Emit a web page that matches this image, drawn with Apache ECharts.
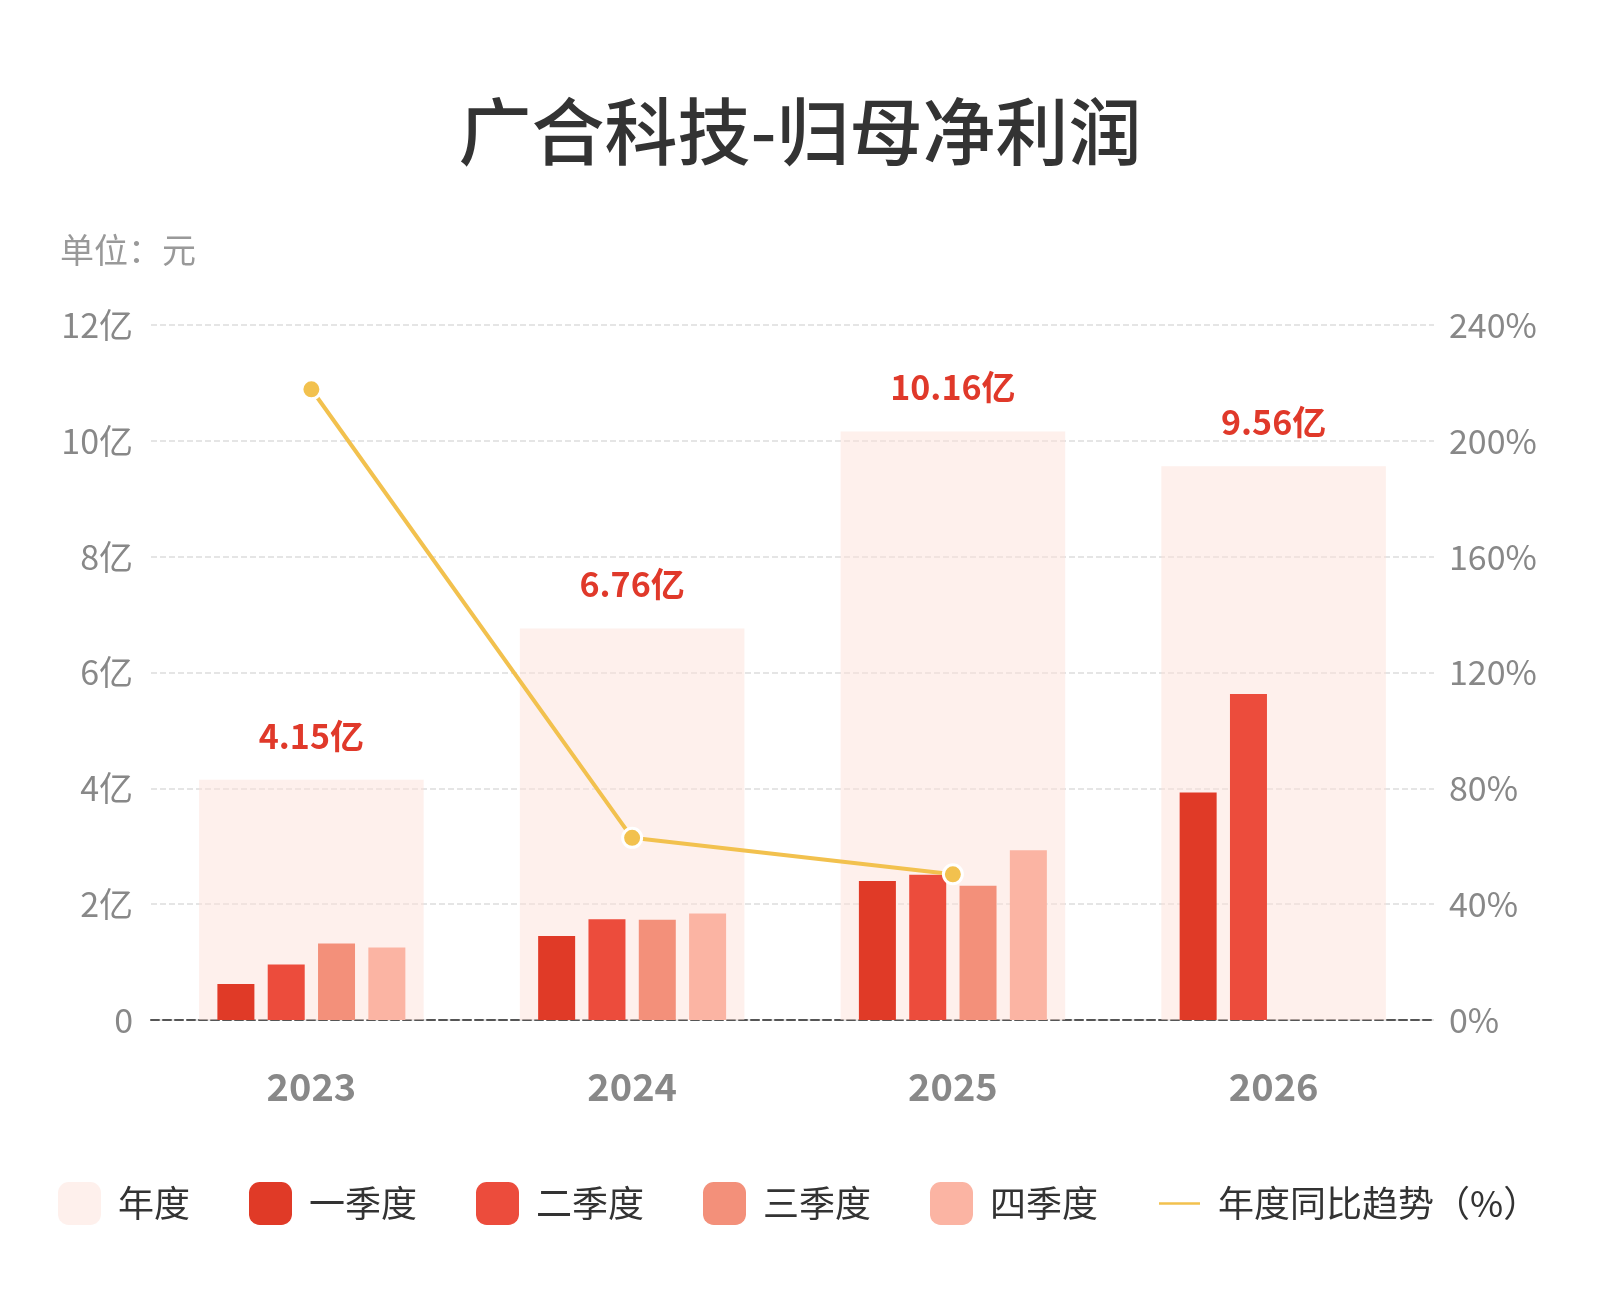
<!DOCTYPE html>
<html>
<head>
<meta charset="utf-8">
<style>
  html, body { margin: 0; padding: 0; background: #fff; }
  #main { width: 1600px; height: 1300px; }
</style>
<script src="https://cdn.jsdelivr.net/npm/echarts@6/dist/echarts.min.js"></script>
</head>
<body>
<div id="main"></div>
<script>
var myChart = echarts.init(document.getElementById('main'));

var years = ['2023', '2024', '2025', '2026'];
// 单位：亿元
var annual = [4.15, 6.76, 10.16, 9.56];
var q1 = [0.62, 1.45, 2.40, 3.93];
var q2 = [0.96, 1.74, 2.51, 5.63];
var q3 = [1.32, 1.73, 2.32, null];
var q4 = [1.25, 1.84, 2.93, null];
var yoy = [217.8, 62.9, 50.3, null];

var leftTicks = { min: 0, max: 12, interval: 2 };
var rightTicks = { min: 0, max: 240, interval: 40 };

var font = '"Noto Sans CJK SC", "Noto Sans", sans-serif';

var quarterBar = function(name, data, color) {
    return {
        name: name,
        type: 'bar',
        xAxisIndex: 1,
        yAxisIndex: 0,
        data: data,
        barWidth: 37,
        barGap: '36%',
        itemStyle: { color: color },
        z: 3
    };
};

var option = {
    backgroundColor: '#ffffff',
    textStyle: { fontFamily: font },
    title: [{
        text: '广合科技-归母净利润',
        left: 'center',
        top: 90,
        textStyle: { fontSize: 73, fontWeight: 500, color: '#333333', fontFamily: font }
    }, {
        text: '单位：元',
        left: 55,
        top: 228,
        textStyle: { fontSize: 34, fontWeight: 'normal', color: '#999999', fontFamily: font }
    }],
    legend: {
        left: 53,
        top: 1177,
        itemWidth: 43,
        itemHeight: 43,
        itemGap: 59,
        textStyle: { fontSize: 36, color: '#333333', fontFamily: font, padding: [0, 0, 0, 12] },
        data: [
            { name: '年度', icon: 'roundRect' },
            { name: '一季度', icon: 'roundRect' },
            { name: '二季度', icon: 'roundRect' },
            { name: '三季度', icon: 'roundRect' },
            { name: '四季度', icon: 'roundRect' },
            { name: '年度同比趋势（%）', icon: 'path://M0,0 L40,0 L40,4 L0,4 Z' }
        ]
    },
    grid: { left: 151, right: 166, top: 325, bottom: 280 },
    xAxis: [{
        type: 'category',
        data: years,
        axisTick: { show: false },
        axisLine: { show: true, lineStyle: { color: '#555555', type: 'dashed', width: 2 } },
        axisLabel: { fontSize: 38, fontWeight: 'bold', color: '#888888', margin: 48, fontFamily: font }
    }, {
        type: 'category',
        data: years,
        show: false
    }],
    yAxis: [{
        type: 'value',
        min: leftTicks.min,
        max: leftTicks.max,
        interval: leftTicks.interval,
        axisLine: { show: false },
        axisTick: { show: false },
        axisLabel: {
            fontSize: 34, color: '#888888', margin: 18, fontFamily: font,
            formatter: function(v) { return v === 0 ? '0' : v + '亿'; }
        },
        splitLine: { lineStyle: { color: '#dddddd', type: 'dashed', width: 1.5 } }
    }, {
        type: 'value',
        min: rightTicks.min,
        max: rightTicks.max,
        interval: rightTicks.interval,
        axisLine: { show: false },
        axisTick: { show: false },
        axisLabel: { fontSize: 34, color: '#888888', margin: 15, fontFamily: font, formatter: '{value}%' },
        splitLine: { show: false }
    }],
    series: [{
        name: '年度',
        type: 'bar',
        xAxisIndex: 0,
        yAxisIndex: 0,
        data: annual,
        barWidth: '70%',
        itemStyle: { color: 'rgba(253, 226, 218, 0.5)' },
        label: {
            show: true,
            position: 'top',
            distance: 27,
            fontSize: 34,
            fontWeight: 'bold',
            color: '#E0392A',
            fontFamily: font,
            formatter: function(p) { return p.value.toFixed(2) + '亿'; }
        },
        z: 1
    },
        quarterBar('一季度', q1, '#E03A27'),
        quarterBar('二季度', q2, '#EC4C3C'),
        quarterBar('三季度', q3, '#F3907A'),
        quarterBar('四季度', q4, '#FBB4A3'),
    {
        name: '年度同比趋势（%）',
        type: 'line',
        xAxisIndex: 0,
        yAxisIndex: 1,
        data: yoy,
        symbol: 'circle',
        symbolSize: 19,
        lineStyle: { color: '#F2C14E', width: 4 },
        itemStyle: { color: '#F2C14E', borderColor: '#ffffff', borderWidth: 3 },
        z: 5
    }]
};

myChart.setOption(option);
</script>
</body>
</html>
